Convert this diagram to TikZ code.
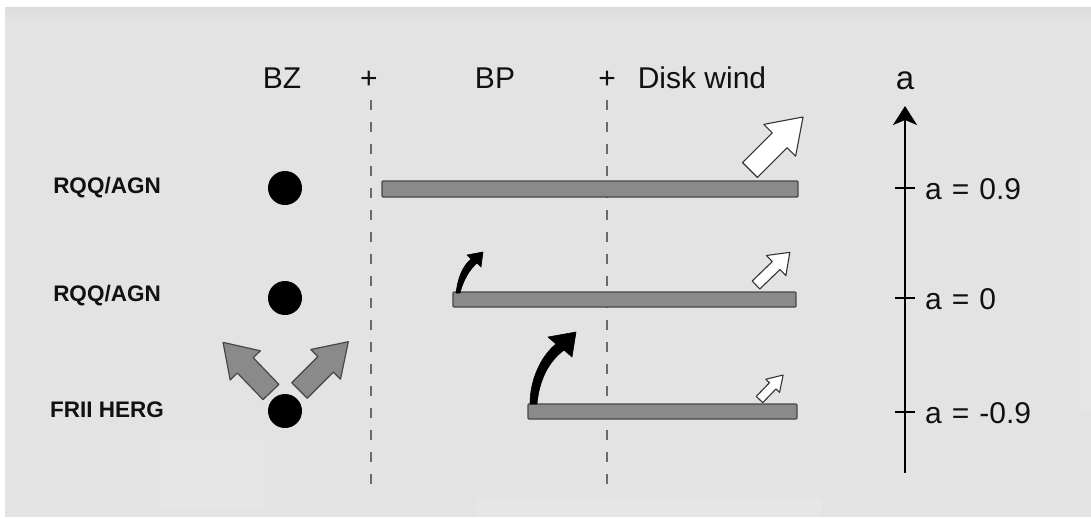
\documentclass[tikz,border=0pt]{standalone}
\usepackage{fontspec}
\setmainfont{Liberation Sans}
\usetikzlibrary{arrows.meta}
\definecolor{bg}{HTML}{E3E3E3}
\definecolor{bgl}{HTML}{E6E6E6}
\definecolor{barfill}{HTML}{8A8A8A}
\definecolor{bardraw}{HTML}{474747}
\definecolor{ink}{HTML}{111111}
\definecolor{dashc}{HTML}{6A6A6A}
\tikzset{
  rowlabel/.style={font=\fontsize{22.5}{24}\selectfont\bfseries, text=ink, inner sep=0pt},
  headlabel/.style={font=\fontsize{30}{34}\selectfont, text=ink, inner sep=0pt, anchor=base},
  axlabel/.style={font=\fontsize{30}{34}\selectfont, text=ink, inner sep=0pt, anchor=west},
  dot/.style={circle, fill=black, minimum size=34pt, inner sep=0pt},
  barbox/.style={fill=barfill, draw=bardraw, line width=1.3pt, rounded corners=1pt},
  hollowarrow/.style={fill=white, draw=black!80, line width=1.1pt, line join=round},
  grayarrow/.style={fill=barfill, draw=bardraw, line width=1.2pt, line join=round},
  divider/.style={draw=dashc, line width=1.3pt, dash pattern=on 10pt off 12pt},
  curvearrow/.style={fill=black, draw=black, line width=0.6pt, line join=round}
}
% #1 tail point, #2 angle, #3 length, #4 shaft width, #5 head width, #6 head length, #7 style
\newcommand\blockarrow[7]{%
  \begin{scope}[shift={#1}, rotate=#2]
    \path[#7] (0,{-#4/2}) -- ({#3-#6},{-#4/2}) -- ({#3-#6},{-#5/2}) -- (#3,0)
      -- ({#3-#6},{#5/2}) -- ({#3-#6},{#4/2}) -- (0,{#4/2}) -- cycle;
  \end{scope}}
\newcommand\eqsp{\hspace{10pt}}
\begin{document}
\begin{tikzpicture}[x=1pt,y=-1pt]
\useasboundingbox (0,0) rectangle (1091,517);
\fill[white] (0,0) rectangle (1091,517);
\fill[bg] (5,7) rectangle (1091,517);
\shade[top color=black!14, bottom color=bg] (5,7) rectangle (1091,20);
\fill[bgl] (160,440) rectangle (265,510);
\fill[bgl] (475,498) rectangle (822,517);
\fill[bgl] (1079,160) rectangle (1091,410);

% header
\node[headlabel] (bz) at (282,88) {BZ};
\node[headlabel] (plus1) at (369,88) {+};
\node[headlabel] (bp) at (495,88) {BP};
\node[headlabel] (plus2) at (607,88) {+};
\node[headlabel] (dw) at (702,88) {Disk wind};

% dividers
\coordinate (d1t) at (371,100); \coordinate (d1b) at (371,490);
\coordinate (d2t) at (607,100); \coordinate (d2b) at (607,490);
\draw[divider] (d1t) -- (d1b);
\draw[divider] (d2t) -- (d2b);

% row labels
\node[rowlabel] (r1) at (107,188) {RQQ/AGN};
\node[rowlabel] (r2) at (107,296) {RQQ/AGN};
\node[rowlabel] (r3) at (107,410) {FRII HERG};

% BZ dots
\node[dot] (dot1) at (285,188) {};
\node[dot] (dot2) at (285,298) {};
\node[dot] (dot3) at (285,411) {};

% bars
\path[barbox] (382,181) rectangle (798,197);
\path[barbox] (453,292) rectangle (796,307);
\path[barbox] (528,404) rectangle (797,419);

% disk wind arrows
\blockarrow{(750,170)}{45}{75}{21}{45}{33}{hollowarrow}
\blockarrow{(756,285)}{44}{47}{11}{28}{19}{hollowarrow}
\blockarrow{(759.5,399.5)}{46}{34}{9}{19}{15}{hollowarrow}

% BZ jets
\blockarrow{(271,392)}{134}{69}{22}{42}{32}{grayarrow}
\blockarrow{(299.5,390.5)}{45}{69}{22}{42}{32}{grayarrow}

% BP curved arrows
\path[curvearrow] (456,293) .. controls (458,278) and (462,267) .. (471,259)
  -- (467,255) -- (483,252) -- (481,267) -- (477,263)
  .. controls (469,270) and (463,281) .. (460,293) -- cycle;
\path[curvearrow] (530,404) .. controls (530,381) and (540,357) .. (556,344)
  -- (548,337) -- (576,332) -- (572,357) -- (564,350)
  .. controls (548,362) and (539,381) .. (537,404) -- cycle;

% spin axis
\coordinate (axb) at (905,473);
\coordinate (axt) at (905,106);
\draw[line width=1.8pt, -{Stealth[length=19pt,width=24pt,inset=5pt]}] (axb) -- (axt);
\node[font=\fontsize{33}{36}\selectfont, text=ink, inner sep=0pt, anchor=base] (alab) at (905,89) {a};
\foreach \yy/\lab/\nm in {188/{a\eqsp=\eqsp0.9}/t1, 298/{a\eqsp=\eqsp0}/t2, 412/{a\eqsp=\eqsp-0.9}/t3}{
  \coordinate (\nm l) at (895,\yy);
  \coordinate (\nm r) at (915,\yy);
  \draw[line width=1.8pt] (\nm l) -- (\nm r);
  \node[axlabel] (\nm lab) at (925,\yy+1) {\lab};
}
\end{tikzpicture}
\end{document}
